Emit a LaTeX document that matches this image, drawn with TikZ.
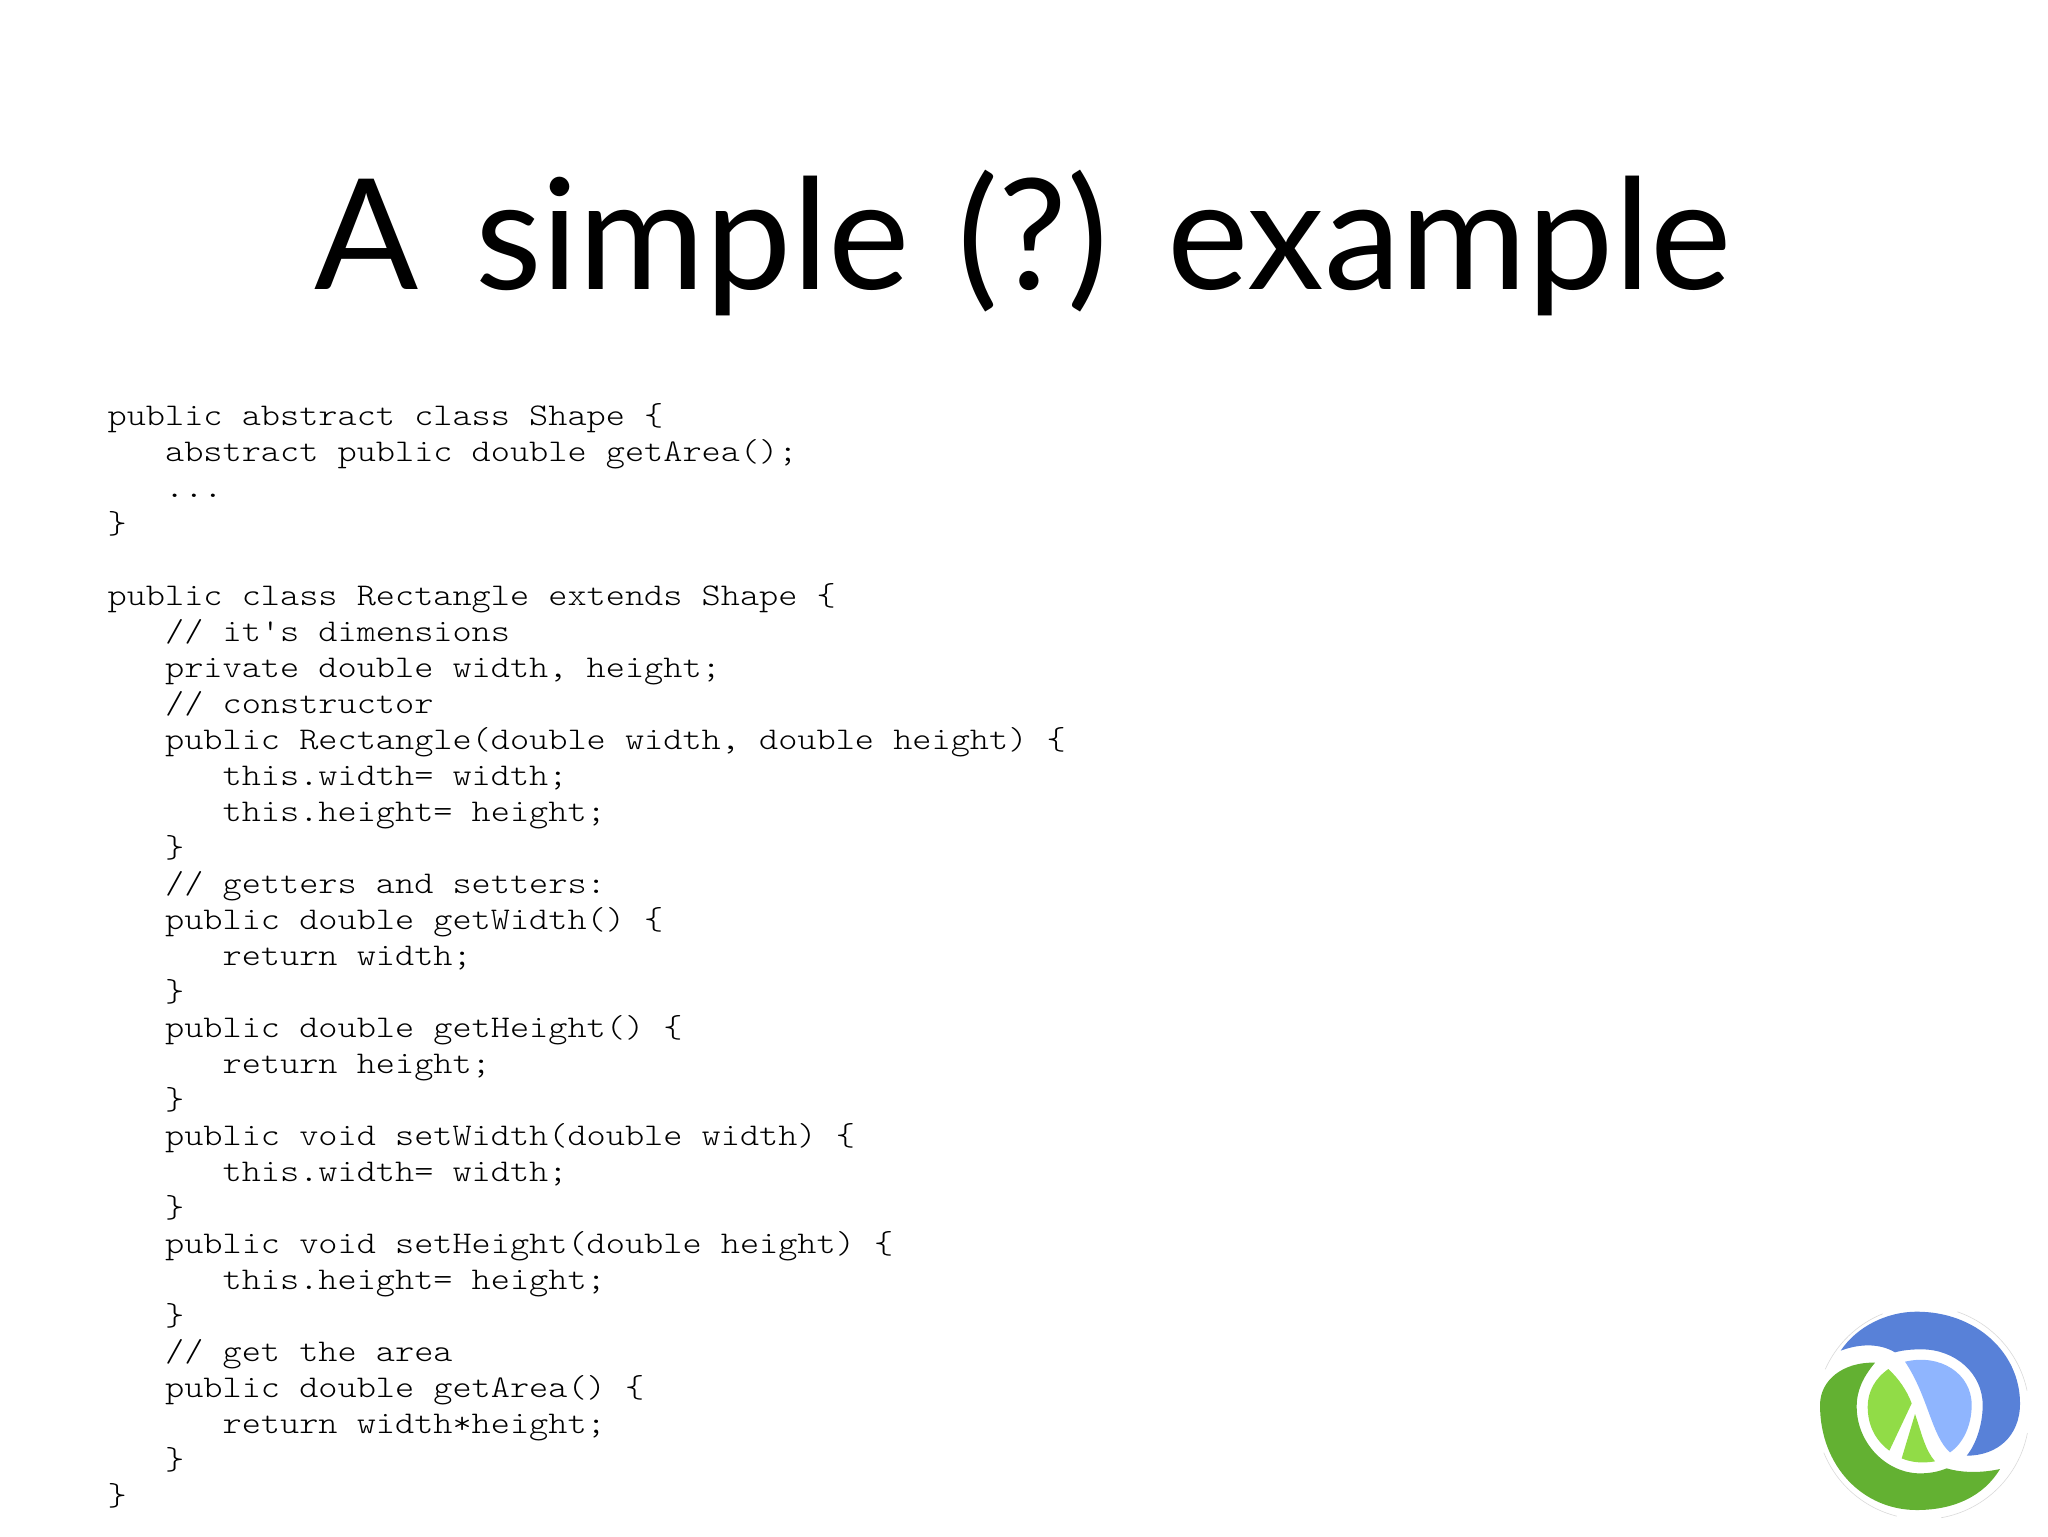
\documentclass[tikz,border=0pt]{standalone}
\usepackage{fontspec}
\setmainfont{Lato}
\newfontfamily\codefont[FakeStretch=1.155]{Latin Modern Mono Light}
\usetikzlibrary{matrix}
\definecolor{logoblue}{HTML}{5881D8}
\definecolor{logosky}{HTML}{8FB5FE}
\definecolor{logogreen}{HTML}{63B132}
\definecolor{logolime}{HTML}{91DC47}
\newcommand{\ind}{\ \ \ }

\begin{document}
\begin{tikzpicture}[x=0.5pt,y=-0.5pt]

\tikzset{code matrix/.style={
		matrix of nodes,
		nodes in empty cells,
		column sep=0pt, row sep=0pt,
		nodes={
			anchor=base west,
			text height=13pt,
			text depth=5pt,
			inner sep=0pt,
			outer sep=0pt,
			font=\codefont\fontsize{15.8}{18}\selectfont
		},
	},
	logo part/.style={fill=#1,draw=none},
	logo rim/.style={draw=black!15,line width=0.3pt}
}
\useasboundingbox (0,0) rectangle (2048,1536);

\node[anchor=base,font=\fontsize{77}{90}\selectfont,inner sep=0pt] (title) at (1023,289) {A\hspace{8.5pt} simple\hspace{3.9pt} (?)\hspace{3.3pt} example};

%|[fill=yellow]|
\matrix[code matrix,anchor=north west,outer sep=0pt] (code) at (101,393)
{
	public abstract class Shape \{ \\
	\ind abstract public double getArea(); \\
	\ind ... \\
	\} \\
	\\
	public class Rectangle extends Shape \{ \\
	\ind // it's dimensions \\
	\ind private double width, height; \\
	\ind // constructor \\
	\ind public Rectangle(double width, double height) \{ \\
	\ind\ind this.width= width; \\
	\ind\ind this.height= height; \\
	\ind \} \\
	\ind // getters and setters: \\
	\ind public double getWidth() \{ \\
	\ind\ind return width; \\
	\ind \} \\
	\ind public double getHeight() \{ \\
	\ind\ind return height; \\
	\ind \} \\
	\ind public void setWidth(double width) \{ \\
	\ind\ind this.width= width; \\
	\ind \} \\
	\ind public void setHeight(double height) \{ \\
	\ind\ind this.height= height; \\
	\ind \} \\
	\ind // get the area \\
	\ind public double getArea() \{ \\
	\ind\ind return width*height; \\
	\ind \} \\
	\} \\
};

% logo
\begin{scope}[shift={(1800,1290)},x=0.16667pt,y=-0.16667pt]
\foreach \from/\to in {289/348, 11/80, 104/158, 204/248}
	\draw[logo rim] (368,368) ++(\from:320) arc (\from:\to:320);
\draw[logo part=logoblue] (122,182) .. controls (170,110) and (260,65) .. (350,65)
	.. controls (530,65) and (660,190) .. (660,340)
	.. controls (660,440) and (590,497) .. (500,497)
	.. controls (530,460) and (548,400) .. (548,345)
	.. controls (548,250) and (465,178) .. (365,178)
	.. controls (335,178) and (310,180) .. (285,187)
	.. controls (240,160) and (180,160) .. (122,182) -- cycle;
\draw[logo part=logosky] (315,215) .. controls (420,190) and (515,250) .. (515,345)
	.. controls (515,405) and (490,460) .. (450,487)
	.. controls (395,440) and (385,320) .. (315,215) -- cycle;
\draw[logo part=logolime] (265,237) .. controls (295,265) and (320,300) .. (335,340)
	-- (268,482)
	.. controls (225,450) and (203,405) .. (203,350)
	.. controls (203,305) and (225,265) .. (265,237) -- cycle;
\draw[logo part=logolime] (345,372) .. controls (365,430) and (375,480) .. (405,514)
	.. controls (370,520) and (335,518) .. (305,505) -- cycle;
\draw[logo part=logogreen] (225,218) .. controls (190,260) and (170,300) .. (170,350)
	.. controls (170,460) and (260,550) .. (360,550)
	.. controls (390,550) and (415,545) .. (440,535)
	.. controls (490,550) and (550,548) .. (600,537)
	.. controls (550,620) and (460,660) .. (350,660)
	.. controls (190,660) and (60,530) .. (60,345)
	.. controls (60,270) and (130,215) .. (225,218) -- cycle;
\end{scope}
\end{tikzpicture}
\end{document}
